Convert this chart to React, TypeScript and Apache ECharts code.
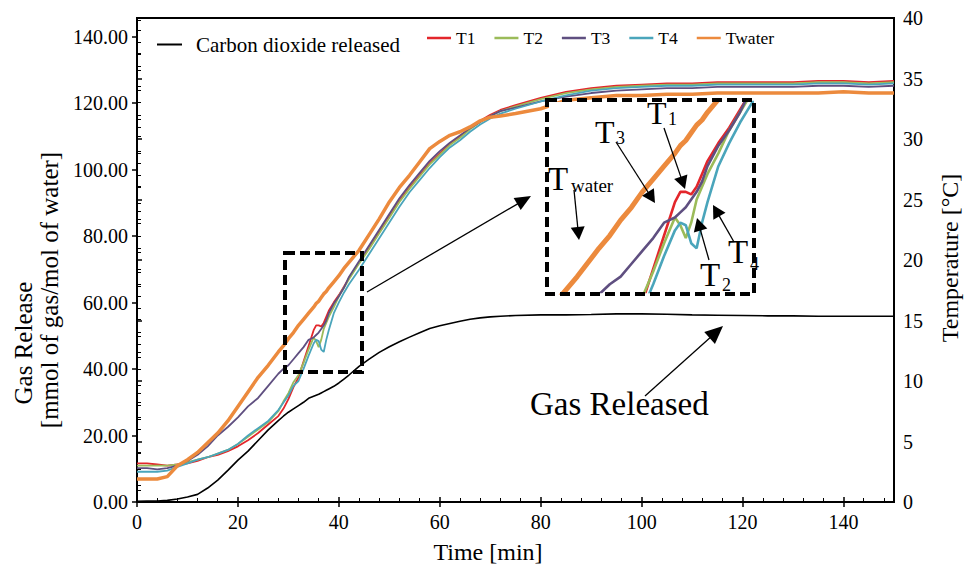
import React, { useEffect, useRef } from "react";
import * as echarts from "echarts";

const FONT = "'Liberation Serif', 'Times New Roman', serif";

// time [min]
const time = [0,2,4,6,8,10,12,14,16,18,20,22,24,26,28,29,30,31,32,33,34,35,35.5,36,36.5,37,37.5,38,39,40,41,42,44,46,48,50,52,54,56,58,60,62,64,66,68,70,72,75,80,85,90,95,100,105,110,115,120,125,130,135,140,145,150];

// Carbon dioxide released [mmol of gas/mol of water]
const co2 = [0.2,0.3,0.3,0.5,0.9,1.5,2.3,4.2,6.6,9.5,12.6,15.3,18.5,21.7,24.5,
  25.8,27.0,28.0,29.0,30.0,31.2,31.8,
  32.1,32.4,32.8,33.2,33.6,34.0,
  34.8,35.8,37.0,38.2,
  40.8,43.0,45.0,46.7,48.2,49.6,50.9,52.2,53.0,53.7,54.4,55.0,55.4,55.7,
  55.9,56.1,
  56.3,56.3,56.4,56.6,56.6,56.5,56.3,56.2,56.1,56.0,56.0,55.9,55.9,55.9,55.9];

// Temperatures [°C]
const t1 = [3.2,3.2,3.1,3.0,3.1,3.2,3.4,3.7,3.9,4.2,4.6,5.1,5.7,6.4,7.1,
  7.7,8.5,9.5,10.3,11.6,12.9,14.2,
  14.6,14.6,14.5,14.8,15.3,15.8,
  16.5,17.1,17.8,18.5,
  19.8,21.0,22.3,23.6,24.9,26.0,27.0,28.0,28.8,29.6,30.2,30.9,31.5,32.0,
  32.4,32.8,
  33.4,33.9,34.2,34.4,34.5,34.6,34.6,34.7,34.7,34.7,34.7,34.8,34.8,34.7,34.8];

const t2 = [3.0,3.0,3.0,3.0,3.1,3.3,3.5,3.7,4.0,4.3,4.8,5.4,6.0,6.6,7.5,
  8.3,9.0,9.9,10.5,11.5,12.6,13.6,
  13.3,12.8,13.4,14.3,14.8,15.3,
  16.1,17.0,17.7,18.4,
  19.7,20.9,22.2,23.5,24.8,25.9,26.9,27.9,28.7,29.5,30.1,30.8,31.4,31.9,
  32.3,32.7,
  33.3,33.8,34.1,34.3,34.4,34.5,34.5,34.6,34.6,34.6,34.6,34.7,34.7,34.6,34.7];

const t3 = [2.8,2.8,2.7,2.8,3.0,3.4,3.9,4.6,5.5,6.2,7.0,7.9,8.6,9.6,10.6,
  11.0,11.3,11.8,12.3,12.8,13.4,13.6,
  13.8,14.0,14.3,14.6,15.0,15.6,
  16.4,17.0,17.7,18.6,
  19.9,21.2,22.5,23.8,25.1,26.2,27.2,28.2,29.0,29.7,30.3,30.9,31.4,31.9,
  32.3,32.6,
  33.1,33.5,33.8,34.0,34.1,34.2,34.2,34.3,34.3,34.3,34.3,34.4,34.4,34.3,34.4];

const t4 = [2.5,2.5,2.5,2.6,2.9,3.2,3.5,3.7,4.0,4.3,4.8,5.5,6.1,6.7,7.6,
  8.2,8.8,9.6,10.0,11.0,12.1,13.1,
  13.4,13.3,12.6,12.4,13.4,14.2,
  15.6,16.5,17.3,18.0,
  19.2,20.5,21.8,23.1,24.4,25.6,26.6,27.6,28.5,29.3,29.9,30.6,31.2,31.7,
  32.1,32.5,
  33.1,33.6,34.0,34.2,34.3,34.4,34.4,34.5,34.5,34.5,34.5,34.6,34.6,34.5,34.6];

const twater = [1.9,1.9,1.9,2.1,3.0,3.5,4.1,4.9,5.7,6.7,7.9,9.1,10.3,11.3,12.4,
  12.9,13.5,14.0,14.6,15.1,15.6,16.1,
  16.4,16.6,16.9,17.2,17.4,17.7,
  18.2,18.7,19.3,19.8,
  20.8,22.1,23.4,24.8,26.0,27.0,28.1,29.2,29.8,30.3,30.6,31.0,31.5,31.8,
  31.9,32.1,
  32.5,33.2,33.4,33.6,33.6,33.7,33.7,33.8,33.8,33.8,33.8,33.8,33.9,33.8,33.8];

const tempNames = ["T1", "T2", "T3", "T4", "Twater"];
const tempColors = ["#e3262b", "#9bbb59", "#5f4f80", "#4aa5bb", "#ec8a3d"];
const tempSeries = [t1, t2, t3, t4, twater];

// Inset magnified window (time and temperature range)
const insetTime = [23.4, 42.1];
const insetTemp = [10.7, 18.1];

function pairs(values: number[]) {
  return time.map((t, i) => [t, values[i]]);
}

function arrow(x1: number, y1: number, x2: number, y2: number, len: number, half: number, w: number) {
  const dx = x2 - x1, dy = y2 - y1;
  const L = Math.hypot(dx, dy);
  const ux = dx / L, uy = dy / L;
  const bx = x2 - ux * len, by = y2 - uy * len;
  return [
    { type: "line", z: 50, shape: { x1, y1, x2: bx + ux * 2, y2: by + uy * 2 }, style: { stroke: "#000", lineWidth: w } },
    {
      type: "polygon", z: 50,
      shape: { points: [[x2, y2], [bx - uy * half, by + ux * half], [bx + uy * half, by - ux * half]] },
      style: { fill: "#000" },
    },
  ];
}

function txt(text: string, x: number, y: number, size: number, align = "left") {
  return {
    type: "text", z: 50, x, y,
    style: { text, font: `${size}px ${FONT}`, fill: "#000", align, verticalAlign: "middle" },
  };
}

function rtxt(text: string, x: number, y: number, size: number) {
  return {
    type: "text", z: 50, x, y, rotation: Math.PI / 2,
    style: { text, font: `${size}px ${FONT}`, fill: "#000", align: "center", verticalAlign: "middle" },
  };
}

export default function App() {
  const ref = useRef<HTMLDivElement>(null);
  useEffect(() => {
    if (!ref.current) return;
    const chart = echarts.init(ref.current, undefined, { renderer: "svg" });
    const labelStyle = { fontFamily: FONT, fontSize: 20, color: "#000" };
    const mainSeries: any[] = [
      {
        name: "Carbon dioxide released", type: "line", xAxisIndex: 0, yAxisIndex: 0,
        data: pairs(co2), symbol: "none", lineStyle: { color: "#000", width: 1.6 }, itemStyle: { color: "#000" }, z: 3,
      },
    ];
    tempSeries.forEach((vals, i) => {
      const isW = tempNames[i] === "Twater";
      mainSeries.push({
        name: tempNames[i], type: "line", xAxisIndex: 0, yAxisIndex: 1,
        data: pairs(vals), symbol: "none",
        lineStyle: { color: tempColors[i], width: isW ? 3.5 : 1.8 },
        itemStyle: { color: tempColors[i] }, z: isW ? 4 : 3,
      });
    });
    tempSeries.forEach((vals, i) => {
      const isW = tempNames[i] === "Twater";
      mainSeries.push({
        name: tempNames[i], type: "line", xAxisIndex: 2, yAxisIndex: 3,
        data: pairs(vals), symbol: "none", clip: true,
        lineStyle: { color: tempColors[i], width: isW ? 5 : 2.6 },
        itemStyle: { color: tempColors[i] }, z: isW ? 21 : 20,
      });
    });

    const graphics: any[] = [
      { type: "rect", z: 45, shape: { x: 285, y: 253, width: 77, height: 119 }, style: { fill: "none", stroke: "#000", lineWidth: 4, lineDash: [10, 5] } },
      { type: "rect", z: 45, shape: { x: 547, y: 100, width: 207, height: 194 }, style: { fill: "none", stroke: "#000", lineWidth: 4, lineDash: [10, 5] } },
      ...arrow(367, 292, 531, 196, 16, 7, 1.3),
      ...arrow(645, 396, 723, 326, 18, 8, 1.3),
      ...arrow(574, 190, 579, 240, 13, 7, 1.3),
      ...arrow(616, 142, 655, 203, 13, 7, 1.3),
      ...arrow(664, 128, 685, 189, 13, 7, 1.3),
      ...arrow(709, 260, 697, 218, 13, 7, 1.3),
      ...arrow(734, 242, 713, 205, 13, 7, 1.3),
      txt("Gas Released", 530, 404, 33),
      txt("T", 548, 179, 33), txt("water", 571, 185, 19),
      txt("T", 595, 132, 32), txt("3", 616, 138, 18),
      txt("T", 647, 113, 32), txt("1", 668, 119, 18),
      txt("T", 700, 275, 33), txt("2", 722, 285, 18),
      txt("T", 728, 252, 33), txt("4", 750, 264, 18),
      txt("Time [min]", 488, 552, 24, "center"),
      { type: "text", z: 50, x: 23, y: 343, rotation: Math.PI / 2, style: { text: "Gas Release", font: `25px ${FONT}`, fill: "#000", align: "center", verticalAlign: "middle" } },
      { type: "text", z: 50, x: 49, y: 290, rotation: Math.PI / 2, style: { text: "[mmol of gas/mol of water]", font: `25px ${FONT}`, fill: "#000", align: "center", verticalAlign: "middle" } },
      rtxt("Temperature [°C]", 950, 258, 24),
    ];

    chart.setOption({
      animation: false,
      backgroundColor: "#fff",
      textStyle: { fontFamily: FONT },
      grid: [
        { left: 137, right: 72, top: 18, bottom: 70, show: true, borderColor: "#000", borderWidth: 2, backgroundColor: "transparent" },
        { left: 549, top: 102, width: 203, height: 190, show: true, backgroundColor: "#fff", borderWidth: 0, z: 10 },
      ],
      legend: [
        {
          data: ["Carbon dioxide released"], left: 152, top: 29, itemWidth: 25, itemHeight: 2, icon: "rect", padding: 5,
          textStyle: { fontFamily: FONT, fontSize: 21, color: "#000", padding: [0, 0, 0, 9] },
        },
        {
          data: tempNames, left: 422, top: 24, itemWidth: 24, itemHeight: 2.5, icon: "rect", itemGap: 19, padding: 5,
          textStyle: { fontFamily: FONT, fontSize: 17.5, color: "#000" },
        },
      ],
      xAxis: [
        {
          type: "value", gridIndex: 0, min: 0, max: 150, interval: 20, position: "bottom",
          axisLine: { lineStyle: { color: "#000", width: 2 } },
          axisTick: { show: true, inside: false, length: 5, lineStyle: { color: "#000", width: 1.5 } },
          minorTick: { show: false },
          axisLabel: { ...labelStyle, margin: 10, showMaxLabel: false },
          splitLine: { show: false },
        },
        {
          type: "value", gridIndex: 0, min: 0, max: 150, interval: 20, position: "bottom",
          axisLine: { show: false },
          axisTick: { show: true, inside: true, length: 5, lineStyle: { color: "#000", width: 1.5 } },
          minorTick: { show: true, splitNumber: 5, length: 4, lineStyle: { color: "#000", width: 1 } },
          axisLabel: { show: false },
          splitLine: { show: false },
        },
        { type: "value", gridIndex: 1, min: insetTime[0], max: insetTime[1], show: false, splitLine: { show: false } },
      ],
      yAxis: [
        {
          type: "value", gridIndex: 0, position: "left", min: 0, max: 145.6, interval: 20,
          axisLine: { show: true, lineStyle: { color: "#000", width: 2 } },
          axisTick: { show: true, inside: false, length: 5, lineStyle: { color: "#000", width: 1.5 } },
          axisLabel: { ...labelStyle, margin: 9, showMaxLabel: false, formatter: (v: number) => v.toFixed(2) },
          splitLine: { show: false },
        },
        {
          type: "value", gridIndex: 0, position: "right", min: 0, max: 40, interval: 5,
          axisLine: { show: true, lineStyle: { color: "#000", width: 2 } },
          axisTick: { show: true, inside: false, length: 5, lineStyle: { color: "#000", width: 1.5 } },
          minorTick: { show: true, splitNumber: 5, length: 4, lineStyle: { color: "#000", width: 1 } },
          axisLabel: { ...labelStyle, margin: 9 },
          splitLine: { show: false },
        },
        {
          type: "value", gridIndex: 0, position: "left", min: 0, max: 145.6, interval: 20,
          axisLine: { show: false },
          axisTick: { show: false, inside: true },
          minorTick: { show: true, splitNumber: 4, length: 4, lineStyle: { color: "#000", width: 1 } },
          axisLabel: { show: false },
          splitLine: { show: false },
        },
        { type: "value", gridIndex: 1, min: insetTemp[0], max: insetTemp[1], show: false, splitLine: { show: false } },
      ],
      series: mainSeries,
      graphic: graphics,
    });
    return () => chart.dispose();
  }, []);
  return <div ref={ref} style={{ width: 966, height: 572, position: "absolute", left: 0, top: 0 }} />;
}
